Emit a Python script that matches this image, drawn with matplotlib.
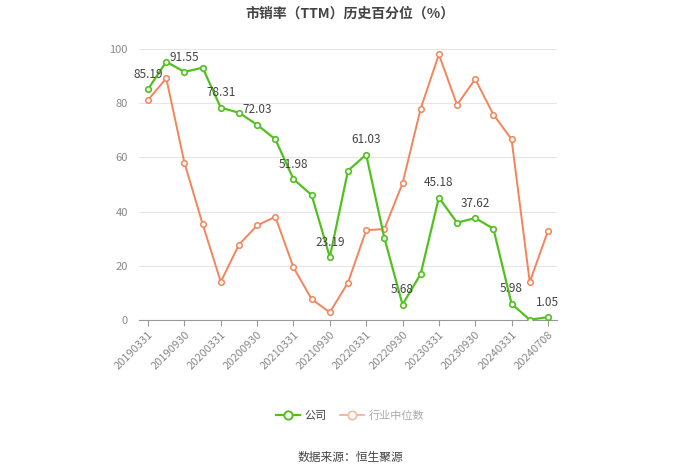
import numpy as np
import matplotlib
matplotlib.use("Agg")
import matplotlib.pyplot as plt

plt.rcParams['font.family'] = ['Noto Sans CJK SC', 'DejaVu Sans']

## data
dates = ["20190331", "20190630", "20190930", "20191231", "20200331", "20200630",
         "20200930", "20201231", "20210331", "20210630", "20210930", "20211231",
         "20220331", "20220630", "20220930", "20221231", "20230331", "20230630",
         "20230930", "20231231", "20240331", "20240630", "20240708"]
company = [85.19, 95.3, 91.55, 93.1, 78.31, 76.5, 72.03, 66.7, 51.98, 46.1, 23.19, 55.1,
           61.03, 30.3, 5.68, 17.0, 45.18, 35.9, 37.62, 33.7, 5.98, 0.1, 1.05]
industry = [81.2, 89.2, 58.0, 35.4, 14.1, 27.8, 34.9, 38.1, 19.4, 7.7, 2.8, 13.8,
            33.1, 33.6, 50.4, 78.0, 98.0, 79.4, 88.9, 75.8, 66.7, 14.0, 32.8]
label_idx = list(range(0, len(dates), 2))

green = "#52c11f"
orange = "#f5845a"

fig = plt.figure(figsize=(7, 4.74), dpi=100)
ax = fig.add_axes([139/700, 1-320/474, (557-139)/700, (320-49)/474])

x = np.arange(len(dates))
ax.plot(x, company, color=green, lw=1.6, marker='o', ms=4, mfc='white', mec=green, mew=1.2, zorder=3)
ax.plot(x, industry, color=orange, lw=1.4, marker='o', ms=4, mfc='white', mec=orange, mew=1.1, zorder=2)

for i in label_idx:
    ax.annotate(f"{company[i]:.2f}", (x[i], company[i]), xytext=(0, 6), textcoords='offset points',
                ha='center', va='bottom', fontsize=8.5, color='#444444', zorder=4)

ax.set_xlim(-0.5, len(dates) - 0.5)
ax.set_ylim(0, 100)
ax.set_yticks(range(0, 101, 20))
ax.yaxis.grid(True, color='#e6e6e6', lw=0.8)
ax.set_axisbelow(True)
ax.tick_params(axis='y', length=0, labelsize=8, labelcolor='#888888', pad=8)
ax.set_xticks(label_idx)
ax.set_xticklabels([dates[i] for i in label_idx], rotation=45, ha='right', rotation_mode='anchor',
                   fontsize=8, color='#888888')
ax.tick_params(axis='x', length=4, color='#999999', pad=3)
for s in ['top', 'right', 'left']:
    ax.spines[s].set_visible(False)
ax.spines['bottom'].set_color('#999999')

fig.text(0.5, 1-14/474, "市销率（TTM）历史百分位（%）", ha='center', va='center',
         fontsize=10, fontweight='bold', color='#444444')

## legend
h1, = ax.plot([], [], color=green, lw=1.6, marker='o', ms=6, mfc='white', mec=green, mew=1.4)
h2, = ax.plot([], [], color='#f7b8a2', lw=1.4, marker='o', ms=6, mfc='white', mec='#f7b8a2', mew=1.2)
leg = fig.legend([h1, h2], ["公司", "行业中位数"], loc='center', bbox_to_anchor=(0.5, 1-416/474),
                 ncol=2, frameon=False, fontsize=8, handlelength=2.2, columnspacing=1.2, handletextpad=0.4)
leg.get_texts()[0].set_color('#444444')
leg.get_texts()[1].set_color('#aaaaaa')

fig.text(0.5, 1-457/474, "数据来源：恒生聚源", ha='center', va='center', fontsize=8.5, color='#444444')

fig.savefig("out.png", dpi=100)
